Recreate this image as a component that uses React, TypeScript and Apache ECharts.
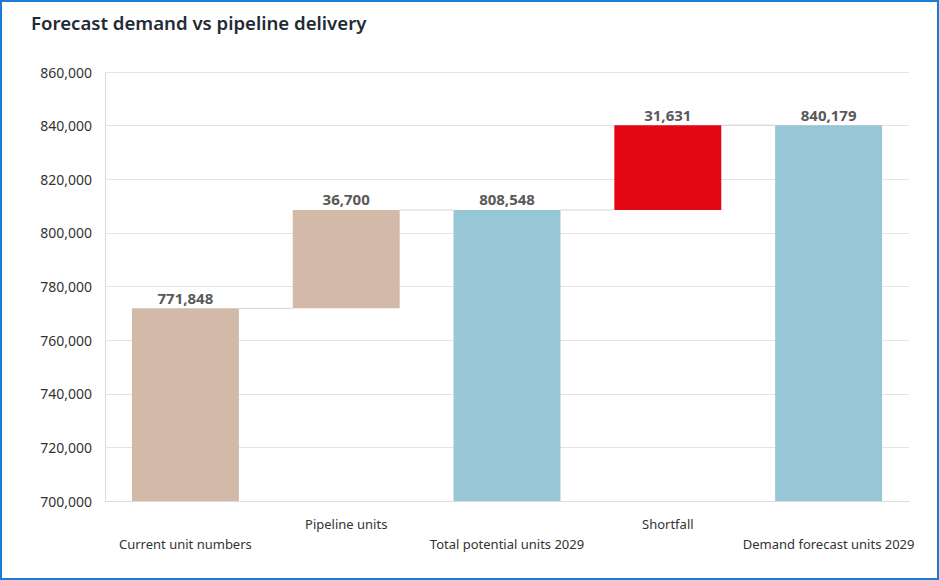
import React, { useEffect, useRef } from "react";
import * as echarts from "echarts";

// Waterfall steps, left to right
const categories = [
  "Current unit numbers",
  "Pipeline units",
  "Total potential units 2029",
  "Shortfall",
  "Demand forecast units 2029",
];
// Visible height of each bar (totals and step changes)
const barValues = [771848, 36700, 808548, 31631, 840179];
// Invisible offset that floats the step bars
const baseValues = [0, 771848, 0, 808548, 0];
// Level carried from one bar to the next by the connector lines
const connectorLevels = [771848, 808548, 808548, 840179];
const barColors = ["#d2b9a8", "#d2b9a8", "#97c6d6", "#e30613", "#97c6d6"];

const yTicks = { min: 700000, max: 860000, interval: 20000 };

const fmt = (v: number) => v.toLocaleString("en-US");
const FONT = "'Noto Sans', 'Open Sans', sans-serif";
const BAR_RATIO = 0.665;

export default function App() {
  const ref = useRef<HTMLDivElement>(null);

  useEffect(() => {
    if (!ref.current) return;
    const chart = echarts.init(ref.current, undefined, { renderer: "svg" });

    chart.setOption({
      animation: false,
      textStyle: { fontFamily: FONT },
      title: {
        text: "Forecast demand vs pipeline delivery",
        left: 26,
        top: 8,
        textStyle: {
          fontFamily: FONT,
          fontSize: 18.6,
          fontWeight: 600,
          color: "#1f2b36",
        },
      },
      graphic: [
        {
          type: "rect",
          shape: { x: 1, y: 1, width: 937, height: 578 },
          style: { fill: "none", stroke: "#1c7cd5", lineWidth: 2 },
          silent: true,
        },
      ],
      grid: { left: 105, right: 30, top: 72, bottom: 79 },
      xAxis: {
        type: "category",
        data: categories,
        axisLine: { show: true, lineStyle: { color: "#dcdcdc", width: 1 } },
        axisTick: { show: false },
        axisLabel: {
          interval: 0,
          margin: 13,
          fontSize: 13,
          lineHeight: 20,
          color: "#333333",
          fontFamily: FONT,
          formatter: (v: string, i: number) => (i % 2 === 0 ? "\n" + v : v),
        },
      },
      yAxis: {
        type: "value",
        min: yTicks.min,
        max: yTicks.max,
        interval: yTicks.interval,
        axisLine: { show: true, lineStyle: { color: "#dcdcdc" } },
        axisTick: { show: false },
        splitLine: { lineStyle: { color: "#e3e3e3", width: 1 } },
        axisLabel: {
          margin: 13,
          fontSize: 14,
          color: "#333333",
          fontFamily: FONT,
          formatter: (v: number) => fmt(v),
        },
      },
      series: [
        {
          type: "custom",
          name: "connectors",
          z: 1,
          clip: true,
          data: connectorLevels.map((v, i) => [i, v]),
          renderItem: (params: any, api: any) => {
            const i = api.value(0);
            const v = api.value(1);
            const a = api.coord([i, v]);
            const b = api.coord([i + 1, v]);
            const half = (api.size([1, 0])[0] * BAR_RATIO) / 2;
            return {
              type: "line",
              shape: { x1: a[0] + half, y1: a[1], x2: b[0] - half, y2: b[1] },
              style: { stroke: "#d6d6d6", lineWidth: 1 },
            };
          },
        },
        {
          type: "bar",
          name: "base",
          stack: "w",
          barWidth: BAR_RATIO * 100 + "%",
          itemStyle: { color: "transparent" },
          emphasis: { disabled: true },
          data: baseValues,
          z: 2,
        },
        {
          type: "bar",
          name: "value",
          stack: "w",
          barWidth: BAR_RATIO * 100 + "%",
          z: 3,
          data: barValues.map((v, i) => ({
            value: v,
            itemStyle: { color: barColors[i] },
          })),
          label: {
            show: true,
            position: "top",
            distance: 3,
            fontSize: 15,
            fontWeight: "bold",
            color: "#595959",
            fontFamily: FONT,
            formatter: (p: any) => fmt(p.value),
          },
        },
      ],
    });

    return () => chart.dispose();
  }, []);

  return (
    <div
      ref={ref}
      style={{
        position: "absolute",
        left: 0,
        top: 0,
        width: 939,
        height: 580,
        background: "#ffffff",
      }}
    />
  );
}
